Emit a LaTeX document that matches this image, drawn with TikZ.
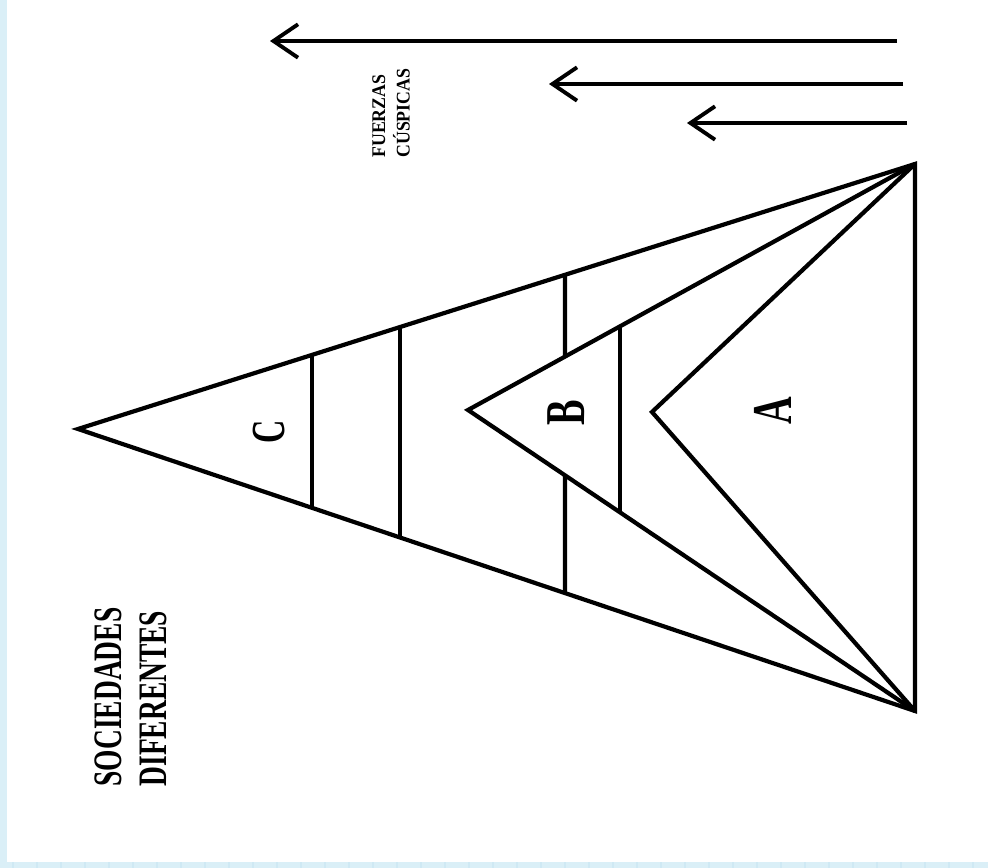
\documentclass[tikz,border=0pt]{standalone}
\usepackage{fontspec}
\newfontfamily\narrowserif[FakeStretch=0.68]{Liberation Serif}
\newfontfamily\smallserif[FakeStretch=0.92]{Liberation Serif}
\usepackage{tikz}
\usetikzlibrary{arrows.meta, calc}
\definecolor{paleblue}{HTML}{DAEFF7}
\definecolor{stripeblue}{HTML}{CFE9F4}
\tikzstyle{edge} = [line width=2.4pt, line join=miter]
\tikzstyle{force} = [line width=2.2pt, -{Straight Barb[length=14pt, width=19pt]}]
\tikzstyle{tag} = [rotate=90, inner sep=0pt, align=left, font=\narrowserif\bfseries]

\begin{document}
\begin{tikzpicture}[x=0.02cm, y=-0.02cm]
  \fill[paleblue] (0,0) rectangle (988,868);
  \foreach \px in {12,36,...,988}
    \fill[stripeblue] (\px,862) rectangle ++(2,6);
  \fill[white] (7,0) rectangle (988,862);
  \useasboundingbox (0,0) rectangle (988,868);

  \coordinate (top) at (915,164);
  \coordinate (bottom) at (915,711);
  \coordinate (apexC) at (78,429);
  \coordinate (apexB) at (468,410);
  \coordinate (apexA) at (652,412);

  % the three pyramids
  \draw[edge] (top) -- (apexC) -- (bottom) -- cycle;
  \draw[edge] (top) -- (apexB) -- (bottom);
  \draw[edge] (top) -- (apexA) -- (bottom);

  % strata
  \foreach \sx in {312,400}
    \draw[edge] ($(apexC)!{(\sx-78)/837}!(top)$) -- ($(apexC)!{(\sx-78)/837}!(bottom)$);
  \draw[edge] ($(apexC)!{(565-78)/837}!(top)$) -- ($(apexB)!{(565-468)/447}!(top)$);
  \draw[edge] ($(apexB)!{(565-468)/447}!(bottom)$) -- ($(apexC)!{(565-78)/837}!(bottom)$);
  \draw[edge] ($(apexB)!{(620-468)/447}!(top)$) -- ($(apexB)!{(620-468)/447}!(bottom)$);

  % forces
  \coordinate (f1end) at (897,41);
  \coordinate (f1tip) at (270,41);
  \coordinate (f2end) at (903,84);
  \coordinate (f2tip) at (549,84);
  \coordinate (f3end) at (907,123);
  \coordinate (f3tip) at (687,123);
  \draw[force] (f1end) -- (f1tip);
  \draw[force] (f2end) -- (f2tip);
  \draw[force] (f3end) -- (f3tip);

  \node (forces) [tag, anchor=west, font=\smallserif\bfseries\fontsize{11}{14}\selectfont] at (391,158) {FUERZAS\\CÚSPICAS};
  \node (societies) [tag, font=\narrowserif\bfseries\fontsize{23}{25.5}\selectfont] at (131,697) {SOCIEDADES\\DIFERENTES};

  \node (labelC) [tag, font=\narrowserif\bfseries\fontsize{27}{30}\selectfont] at (269,432) {C};
  \node (labelB) [tag, font=\narrowserif\bfseries\fontsize{32}{34}\selectfont] at (566,413) {B};
  \node (labelA) [tag, font=\narrowserif\bfseries\fontsize{32}{34}\selectfont] at (773,411) {A};
\end{tikzpicture}
\end{document}
